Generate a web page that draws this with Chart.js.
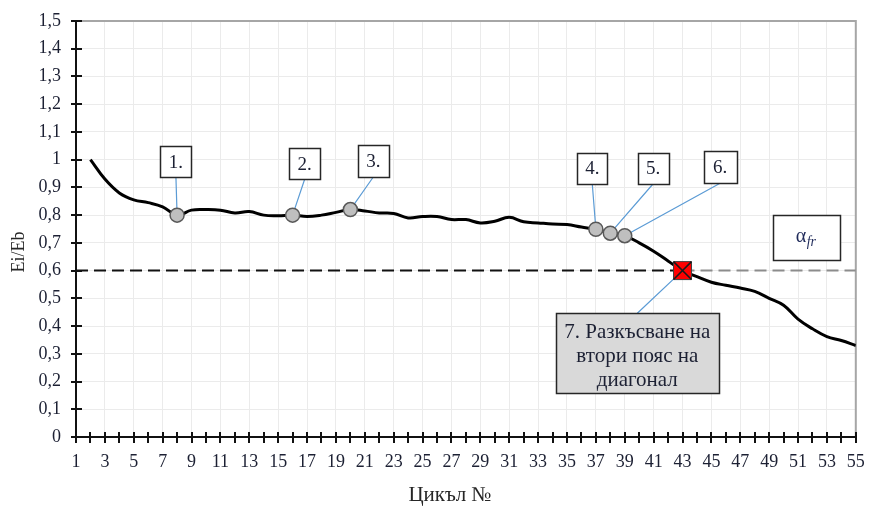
<!DOCTYPE html>
<html>
<head>
<meta charset="utf-8">
<script src="https://cdn.jsdelivr.net/npm/chart.js@4"></script>
<style>
  html, body { margin: 0; padding: 0; background: #fff; }
  #wrap { width: 870px; height: 506px; }
</style>
</head>
<body>
<div id="wrap"><canvas id="chart" width="870" height="506"></canvas></div>
<script>
// Stiffness ratio Ei/Eb per loading cycle
const cycles = [2, 3, 4, 5, 6, 7, 8, 9, 10, 11, 12, 13, 14, 15, 16, 17, 18, 19, 20, 21,
  22, 23, 24, 25, 26, 27, 28, 29, 30, 31, 32, 33, 34, 35, 36, 37, 38, 39, 40, 41,
  42, 43, 44, 45, 46, 47, 48, 49, 50, 51, 52, 53, 54, 55];
const ratio = [1.00, 0.93, 0.88, 0.855, 0.845, 0.83, 0.80, 0.818, 0.82, 0.818,
  0.808, 0.813, 0.80, 0.798, 0.80, 0.795, 0.80, 0.81, 0.82, 0.815,
  0.808, 0.806, 0.79, 0.795, 0.795, 0.784, 0.784, 0.772, 0.778, 0.792,
  0.776, 0.772, 0.768, 0.766, 0.757, 0.749, 0.735, 0.726, 0.70, 0.67,
  0.635, 0.60, 0.578, 0.558, 0.547, 0.537, 0.525, 0.50, 0.475, 0.425,
  0.39, 0.362, 0.348, 0.33];

// Damage events (1.–6.) and the rupture of the second chord (7.)
const eventCycles = [8, 16, 20, 37, 38, 39];
const ruptureCycle = 43;

// Limit ratio α_fr
const threshold = 0.6;
const thresholdSpan = [1, ruptureCycle, 55];

// Axis ticks
const xLabelTicks = [1, 3, 5, 7, 9, 11, 13, 15, 17, 19, 21, 23, 25, 27, 29, 31, 33, 35,
  37, 39, 41, 43, 45, 47, 49, 51, 53, 55];
const yTickValues = [0, 0.1, 0.2, 0.3, 0.4, 0.5, 0.6, 0.7, 0.8, 0.9, 1.0, 1.1, 1.2, 1.3, 1.4, 1.5];

const valueAt = c => ratio[cycles.indexOf(c)];

// Callout boxes: centre in data units, size in px, leader to a cycle on the curve
const callouts = [
  { lines: ['1.'], cx: 7.92, cy: 0.993, w: 31, h: 31, target: 8 },
  { lines: ['2.'], cx: 16.84, cy: 0.986, w: 31, h: 31, target: 16 },
  { lines: ['3.'], cx: 21.6, cy: 0.996, w: 31, h: 32, target: 20 },
  { lines: ['4.'], cx: 36.75, cy: 0.969, w: 30, h: 31, target: 37 },
  { lines: ['5.'], cx: 40.97, cy: 0.969, w: 31, h: 31, target: 38 },
  { lines: ['6.'], cx: 45.6, cy: 0.973, w: 33, h: 32, target: 39 },
  { lines: ['7. Разкъсване на', 'втори пояс на', 'диагонал'], cx: 39.87, cy: 0.302,
    w: 163, h: 80, target: ruptureCycle, fill: '#d9d9d9', fromTop: true, size: 21 }
];
const alphaBox = { cx: 51.6, cy: 0.721, w: 67, h: 45 };

const FONT = '"Liberation Serif", "Times New Roman", serif';
const TEXT = '#1c2033';

const overlay = {
  id: 'overlay',
  beforeDatasetsDraw(chart) {
    const { ctx, chartArea: a, scales: { x, y } } = chart;
    ctx.save();
    // frame top/right
    ctx.strokeStyle = '#a6a6a6';
    ctx.lineWidth = 2;
    ctx.beginPath();
    ctx.moveTo(a.left, a.top); ctx.lineTo(a.right, a.top); ctx.lineTo(a.right, a.bottom);
    ctx.stroke();
    // axis lines
    ctx.strokeStyle = '#111';
    ctx.lineWidth = 2;
    ctx.beginPath();
    ctx.moveTo(a.left, a.top - 1); ctx.lineTo(a.left, a.bottom); ctx.lineTo(a.right, a.bottom);
    ctx.stroke();
    // crossing tick marks
    ctx.lineWidth = 2;
    ctx.beginPath();
    yTickValues.forEach(v => {
      const py = Math.round(y.getPixelForValue(v));
      ctx.moveTo(a.left - 5, py); ctx.lineTo(a.left + 6, py);
    });
    for (let c = 1; c <= 55; c++) {
      const px = Math.round(x.getPixelForValue(c));
      ctx.moveTo(px, a.bottom - 5); ctx.lineTo(px, a.bottom + 6);
    }
    ctx.stroke();
    // leader lines
    ctx.strokeStyle = '#5b9bd5';
    ctx.lineWidth = 1.2;
    ctx.beginPath();
    callouts.forEach(cb => {
      const bx = x.getPixelForValue(cb.cx);
      const by = y.getPixelForValue(cb.cy) + (cb.fromTop ? -cb.h / 2 : cb.h / 2);
      ctx.moveTo(bx, by);
      ctx.lineTo(x.getPixelForValue(cb.target), y.getPixelForValue(valueAt(cb.target)));
    });
    ctx.stroke();
    ctx.restore();
  },
  afterDatasetsDraw(chart) {
    const { ctx, scales: { x, y } } = chart;
    ctx.save();
    const box = (cx, cy, w, h, fill) => {
      const l = Math.round(x.getPixelForValue(cx) - w / 2) + 0.5;
      const t = Math.round(y.getPixelForValue(cy) - h / 2) + 0.5;
      ctx.fillStyle = fill || '#fff';
      ctx.fillRect(l, t, w, h);
      ctx.strokeStyle = '#262626';
      ctx.lineWidth = 1.5;
      ctx.strokeRect(l, t, w, h);
    };
    callouts.forEach(cb => {
      box(cb.cx, cb.cy, cb.w, cb.h, cb.fill);
      const px = x.getPixelForValue(cb.cx);
      const py = y.getPixelForValue(cb.cy);
      ctx.fillStyle = TEXT;
      ctx.textAlign = 'center';
      ctx.textBaseline = 'middle';
      ctx.font = (cb.size || 19) + 'px ' + FONT;
      const lh = 24;
      cb.lines.forEach((s, i) => {
        ctx.fillText(s, px, py + (i - (cb.lines.length - 1) / 2) * lh + (cb.lines.length > 1 ? 3 : 1));
      });
    });
    // α_fr box
    box(alphaBox.cx, alphaBox.cy, alphaBox.w, alphaBox.h);
    const ax = x.getPixelForValue(alphaBox.cx);
    const ay = y.getPixelForValue(alphaBox.cy);
    ctx.fillStyle = '#1f2a5a';
    ctx.textBaseline = 'middle';
    ctx.textAlign = 'left';
    ctx.font = '20px ' + FONT;
    ctx.fillText('α', ax - 11, ay);
    ctx.font = 'italic 14px ' + FONT;
    ctx.fillText('fr', ax, ay + 5);
    // axis titles
    ctx.fillStyle = '#262626';
    ctx.textAlign = 'center';
    ctx.font = '21px ' + FONT;
    ctx.fillText('Цикъл №', 450, 495);
    ctx.translate(19, 252);
    ctx.rotate(-Math.PI / 2);
    ctx.font = '18px ' + FONT;
    ctx.fillText('Ei/Eb', 0, 0);
    ctx.restore();
  }
};

new Chart(document.getElementById('chart'), {
  type: 'line',
  data: {
    datasets: [
      {
        label: 'α_fr',
        data: thresholdSpan.map(c => ({ x: c, y: threshold })),
        borderColor: '#111',
        borderWidth: 2,
        borderDash: [12, 6],
        pointRadius: 0,
        tension: 0,
        segment: { borderColor: s => (s.p0DataIndex >= 1 ? '#8c8c8c' : '#111') },
        order: 5
      },
      {
        label: 'Ei/Eb',
        data: cycles.map((c, i) => ({ x: c, y: ratio[i] })),
        borderColor: '#000',
        borderWidth: 3,
        pointRadius: 0,
        tension: 0.4,
        order: 4
      },
      {
        label: 'events',
        data: eventCycles.map(c => ({ x: c, y: valueAt(c) })),
        showLine: false,
        pointRadius: 7,
        pointBackgroundColor: '#bfbfbf',
        pointBorderColor: '#595959',
        pointBorderWidth: 1.5,
        order: 3
      },
      {
        label: 'rupture',
        data: [{ x: ruptureCycle, y: valueAt(ruptureCycle) }],
        showLine: false,
        pointStyle: 'rect',
        pointRadius: 12.7,
        pointBackgroundColor: '#ff0000',
        pointBorderColor: '#404040',
        pointBorderWidth: 1,
        order: 2
      },
      {
        label: 'rupture-x',
        data: [{ x: ruptureCycle, y: valueAt(ruptureCycle) }],
        showLine: false,
        pointStyle: 'crossRot',
        pointRadius: 12.7,
        pointBorderColor: '#1a1a1a',
        pointBorderWidth: 1.5,
        order: 1
      }
    ]
  },
  options: {
    responsive: false,
    animation: false,
    devicePixelRatio: 1,
    layout: { padding: { top: 21, right: 11, left: 0, bottom: 0 } },
    plugins: { legend: { display: false }, tooltip: { enabled: false } },
    scales: {
      x: {
        type: 'linear',
        min: 1,
        max: 55,
        afterBuildTicks: s => { s.ticks = xLabelTicks.map(v => ({ value: v })); },
        afterFit: s => { s.height = 69; s.paddingLeft = 0; s.paddingRight = 0; },
        grid: { color: '#ebebeb', lineWidth: 1, drawTicks: false },
        border: { display: false },
        ticks: {
          autoSkip: false,
          maxRotation: 0,
          padding: 14,
          color: TEXT,
          font: { family: FONT, size: 18 }
        }
      },
      y: {
        min: 0,
        max: 1.5,
        afterBuildTicks: s => { s.ticks = yTickValues.map(v => ({ value: v })); },
        afterFit: s => { s.width = 76; s.paddingTop = 0; s.paddingBottom = 0; },
        grid: { color: '#ebebeb', lineWidth: 1, drawTicks: false },
        border: { display: false },
        ticks: {
          padding: 15,
          color: TEXT,
          font: { family: FONT, size: 18 },
          callback: v => String(Math.round(v * 10) / 10).replace('.', ',')
        }
      }
    }
  },
  plugins: [overlay]
});
</script>
</body>
</html>
